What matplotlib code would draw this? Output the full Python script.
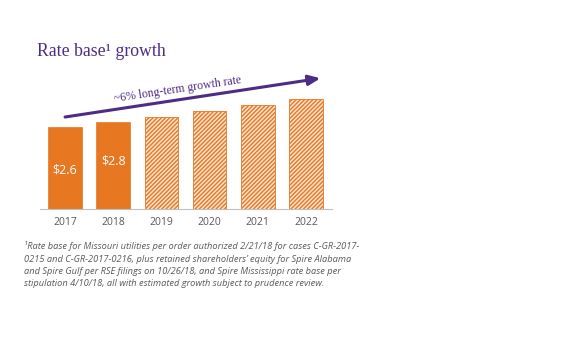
import matplotlib
matplotlib.use("Agg")
import matplotlib.pyplot as plt

years = ["2017", "2018", "2019", "2020", "2021", "2022"]
rate_base = [2.6, 2.76, 2.92, 3.1, 3.3, 3.5]
value_labels = ["$2.6", "$2.8", "", "", "", ""]
is_actual = [True, True, False, False, False, False]

title = "Rate base\u00b9 growth"
arrow_label = "~6% long-term growth rate"
footnote = ("\u00b9Rate base for Missouri utilities per order authorized 2/21/18 for cases C-GR-2017-\n"
            "0215 and C-GR-2017-0216, plus retained shareholders\u2019 equity for Spire Alabama\n"
            "and Spire Gulf per RSE filings on 10/26/18, and Spire Mississippi rate base per\n"
            "stipulation 4/10/18, all with estimated growth subject to prudence review.")

ORANGE = "#E87722"
PURPLE = "#4F2C84"
GREY = "#595959"

plt.rcParams["hatch.linewidth"] = 1.0

fig = plt.figure(figsize=(5.75, 3.4), dpi=100)
W, H = 575, 340
# axes: x from 40 to 332 px, baseline at y=209 px, top at y=60 px
ax = fig.add_axes([40 / W, 1 - 209 / H, (332 - 40) / W, (209 - 60) / H])
x = list(range(len(years)))
for i, (v, act) in enumerate(zip(rate_base, is_actual)):
    if act:
        ax.bar(i, v, width=0.7, color=ORANGE, edgecolor=ORANGE, linewidth=0.5)
    else:
        ax.bar(i, v, width=0.7, facecolor="#FBE3CF", edgecolor=ORANGE,
               hatch="////////", linewidth=0.6)
for i, (v, lab) in enumerate(zip(rate_base, value_labels)):
    if lab:
        ax.text(i, v / 2 - 0.05 + 0.2 * i, lab, ha="center", va="center", color="white",
                fontsize=9, family="Open Sans")

ax.set_xlim(-0.52, 5.54)
ax.set_ylim(0, 149 / 31.5)
ax.set_xticks(x)
ax.set_xticklabels(years, color=GREY, fontsize=7.5, family="Open Sans")
ax.tick_params(axis="x", length=0, pad=6)
ax.set_yticks([])
for s in ["top", "right", "left"]:
    ax.spines[s].set_visible(False)
ax.spines["bottom"].set_color("#BFBFBF")
ax.spines["bottom"].set_linewidth(0.8)

# growth arrow above the bars
ax.annotate("", xy=(5.3, 4.15), xytext=(0.0, 2.92),
            arrowprops=dict(arrowstyle="-|>,head_length=0.7,head_width=0.3",
                            color=PURPLE, lw=2.2, shrinkA=0, shrinkB=0))
fig.text(178 / W, 1 - 90 / H, arrow_label, ha="center", va="center",
         rotation=8.5, color=PURPLE, fontsize=8.5, family="Liberation Serif")

fig.text(37 / W, 1 - 52 / H, title, ha="left", va="center", color=PURPLE,
         fontsize=12.8, family="Liberation Serif")

fig.text(24 / W, 1 - 241 / H, footnote, ha="left", va="top", color=GREY,
         fontsize=6.7, style="italic", family="Open Sans", linespacing=1.5)

fig.savefig("out.png", dpi=100)
